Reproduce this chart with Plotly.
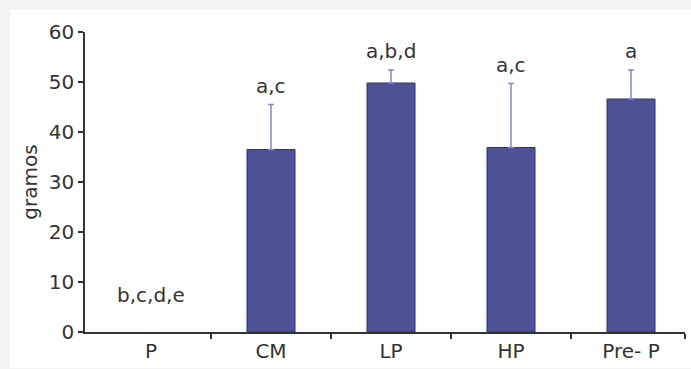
import plotly.graph_objects as go

categories = ["P", "CM", "LP", "HP", "Pre- P"]
values = [0, 36.5, 49.8, 36.9, 46.6]
errors_plus = [0, 9.0, 2.6, 12.8, 5.8]
letters = ["b,c,d,e", "a,c", "a,b,d", "a,c", "a"]
y_ticks = [0, 10, 20, 30, 40, 50, 60]

FONT = "DejaVu Sans"
TXT = "#333333"
BAR = "#4f5197"

idx = list(range(len(categories)))
shown = [i for i in idx if values[i] > 0]

fig = go.Figure()
fig.add_trace(go.Bar(
    x=[i for i in shown],
    y=[values[i] for i in shown],
    width=0.4,
    marker=dict(color=BAR, line=dict(color="#2f3172", width=1)),
    showlegend=False,
))
# upward error bars
fig.add_trace(go.Scatter(
    x=[i for i in shown],
    y=[values[i] for i in shown],
    mode="markers",
    marker=dict(size=1, opacity=0),
    error_y=dict(type="data", symmetric=False,
                 array=[errors_plus[i] for i in shown],
                 arrayminus=[0 for _ in shown],
                 color="#8088d2", thickness=1.5, width=3),
    showlegend=False, hoverinfo="skip",
))

for i, (v, e, t) in enumerate(zip(values, errors_plus, letters)):
    top = v + e
    fig.add_annotation(x=i, y=top, text=t, showarrow=False,
                       xanchor="center", yanchor="bottom",
                       yshift=5 if top > 0 else 23,
                       font=dict(family=FONT, size=20, color=TXT))

# white panel over light grey page
fig.add_shape(type="rect", xref="paper", yref="paper",
              x0=-0.125, x1=1.02, y0=-0.12, y1=1.0744,
              fillcolor="white", line=dict(width=0), layer="below")

fig.update_layout(
    width=691, height=369,
    margin=dict(l=85, r=6, t=32, b=32),
    paper_bgcolor="#f3f3f3",
    plot_bgcolor="white",
    font=dict(family=FONT, size=20, color=TXT),
)
fig.update_xaxes(
    range=[-0.55, 4.45],
    tickmode="array",
    tickvals=idx,
    ticktext=categories,
    showline=True, linecolor="#333333", linewidth=1.5,
    ticks="", showgrid=False, zeroline=False,
    tickfont=dict(family=FONT, size=20, color=TXT),
)
fig.update_xaxes(minor=dict(tickmode="array", tickvals=[0.5, 1.5, 2.5, 3.5, 4.45],
                            ticks="outside", ticklen=5, tickcolor="#333333", tickwidth=1.5))
fig.update_yaxes(
    range=[0, 60],
    tickmode="array", tickvals=y_ticks,
    showline=True, linecolor="#333333", linewidth=1.5,
    ticks="outside", ticklen=5, tickcolor="#333333", tickwidth=1.5,
    showgrid=False, zeroline=False,
    tickfont=dict(family=FONT, size=20, color=TXT),
    title=dict(text="gramos", font=dict(family=FONT, size=20, color=TXT), standoff=6),
)

fig.write_html("out.html", config={"displayModeBar": False},
               post_script="document.body.style.margin='0';document.body.style.overflow='hidden';")
